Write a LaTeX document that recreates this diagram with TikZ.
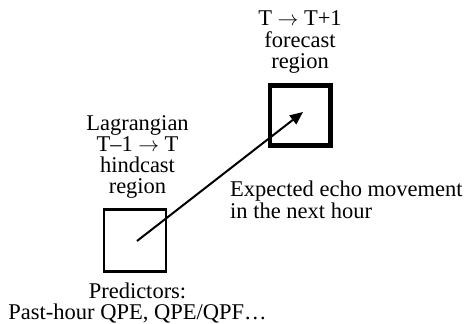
\documentclass[tikz,border=0pt]{standalone}
\usepackage{fontspec}
\setmainfont{Liberation Serif}
\usetikzlibrary{arrows.meta}
\begin{document}
\begin{tikzpicture}[x=1pt,y=-1pt,
  lbl/.style={font=\fontsize{22.5}{21.5}\selectfont,inner sep=0pt,anchor=base},
  lbll/.style={font=\fontsize{22.5}{21.5}\selectfont,inner sep=0pt,anchor=base west},
  smallbox/.style={draw,line width=2.2pt,minimum width=62pt,minimum height=62pt,inner sep=0pt},
  bigbox/.style={draw,line width=4.6pt,minimum width=60.5pt,minimum height=60.5pt,inner sep=0pt},
  mv/.style={line width=2pt,-{Triangle[length=13pt,width=11pt]}}]
\useasboundingbox (0,0) rectangle (466,324);
\node[smallbox] (hind) at (135,240.5) {};
\node[bigbox] (fore) at (300.2,115.5) {};
\coordinate (s) at (137,241);
\coordinate (e) at (303,112);
\draw[mv] (s) -- (e);
\node[lbl] (f1) at (300,25.5) {T $\rightarrow$ T+1};
\node[lbl] (f2) at (300,47) {forecast};
\node[lbl] (f3) at (300,68.5) {region};
\node[lbl] (h1) at (137.5,130) {Lagrangian};
\node[lbl] (h2) at (137.5,151.5) {T\textendash1 $\rightarrow$ T};
\node[lbl] (h3) at (137.5,172.5) {hindcast};
\node[lbl] (h4) at (137.5,193.5) {region};
\node[lbll] (m1) at (230,196.5) {Expected echo movement};
\node[lbll] (m2) at (230,218) {in the next hour};
\node[lbl] (p1) at (137.5,298) {Predictors:};
\node[lbl] (p2) at (137.5,319.5) {Past-hour QPE, QPE/QPF\ldots};
\end{tikzpicture}
\end{document}
